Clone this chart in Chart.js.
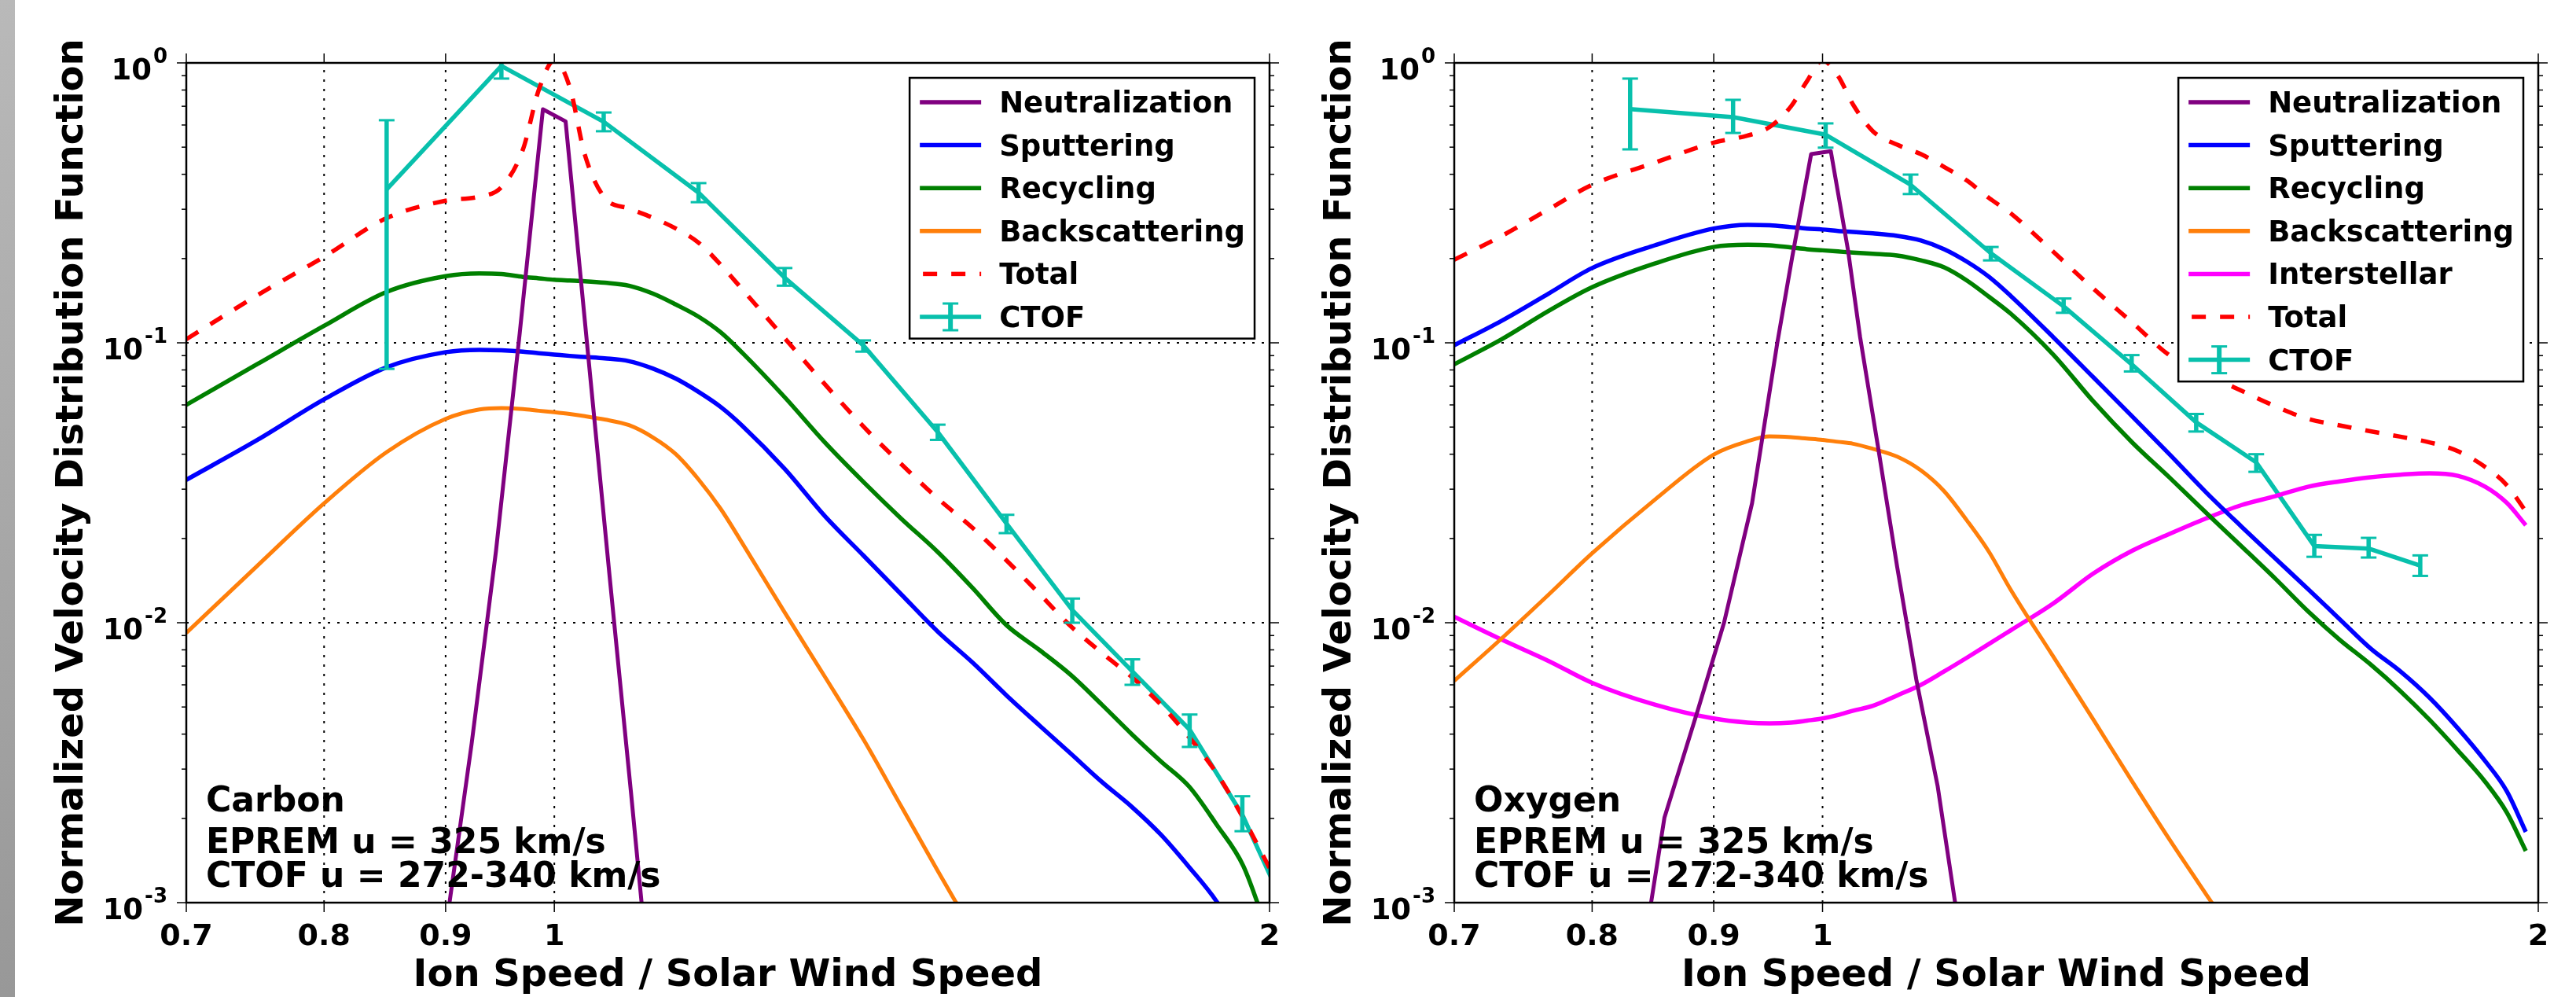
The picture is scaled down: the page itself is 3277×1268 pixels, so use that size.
<!DOCTYPE html>
<html>
<head>
<meta charset="utf-8">
<script src="https://cdn.jsdelivr.net/npm/chart.js@4.4.1/dist/chart.umd.min.js"></script>
<style>
  html, body { margin: 0; padding: 0; background: #fff; }
  body { width: 3277px; height: 1268px; position: relative; overflow: hidden; }
  .strip { position: absolute; left: 0; top: 0; width: 19px; height: 1268px; background: linear-gradient(#b9b9b9, #989898); }
  .panel { position: absolute; top: 0; height: 1268px; }
  #carbonBox { left: 0; width: 1640px; }
  #oxygenBox { left: 1640px; width: 1637px; }
</style>
</head>
<body>
<div class="strip"></div>
<div class="panel" id="carbonBox"><canvas id="carbonChart"></canvas></div>
<div class="panel" id="oxygenBox"><canvas id="oxygenChart"></canvas></div>
<script>
// axes
const xTicks = [0.7, 0.8, 0.9, 1, 2];
const xTickLabels = ['0.7', '0.8', '0.9', '1', '2'];
const yTicks = [1, 0.1, 0.01, 0.001];
const yTickExp = ['0', '-1', '-2', '-3'];
const xTitle = 'Ion Speed / Solar Wind Speed';
const yTitle = 'Normalized Velocity Distribution Function';

// Carbon panel - model curves share one x grid
const carbonGridX = [0.7, 0.75, 0.8, 0.85, 0.9, 0.93, 0.95, 0.97, 0.985, 1.0, 1.015, 1.03, 1.05, 1.075, 1.1, 1.125, 1.15, 1.175, 1.2, 1.25, 1.3, 1.35, 1.4, 1.45, 1.5, 1.55, 1.6, 1.65, 1.7, 1.75, 1.8, 1.85, 1.9, 1.95, 2.0];
const carbonSputtering = [0.0324, 0.045, 0.0628, 0.0818, 0.0926, 0.0944, 0.094, 0.093, 0.0918, 0.0908, 0.0898, 0.089, 0.088, 0.086, 0.081, 0.0745, 0.0668, 0.059, 0.0505, 0.0355, 0.024, 0.0173, 0.0126, 0.0093, 0.0072, 0.0055, 0.0043, 0.0034, 0.0027, 0.0022, 0.00175, 0.00134, 0.00101, 0.0007, 0.0005];
const carbonRecycling = [0.060, 0.084, 0.115, 0.152, 0.173, 0.177, 0.176, 0.172, 0.170, 0.168, 0.167, 0.166, 0.164, 0.160, 0.150, 0.137, 0.124, 0.109, 0.092, 0.064, 0.044, 0.0317, 0.0235, 0.0179, 0.0133, 0.0098, 0.008, 0.0065, 0.0051, 0.004, 0.0032, 0.0026, 0.0019, 0.00135, 0.00075];
const carbonBackscattering = [0.0092, 0.016, 0.0267, 0.0407, 0.0535, 0.0578, 0.0585, 0.058, 0.0572, 0.0565, 0.0557, 0.0547, 0.0532, 0.0508, 0.046, 0.040, 0.0325, 0.0255, 0.0192, 0.0109, 0.0064, 0.0038, 0.0022, 0.0013, 0.00079, 0.00049, null, null, null, null, null, null, null, null, null];
const carbonTotal = [0.103, 0.148, 0.203, 0.279, 0.322, 0.333, 0.36, 0.49, 0.80, 1.02, 0.82, 0.47, 0.33, 0.302, 0.28, 0.256, 0.228, 0.19, 0.155, 0.104, 0.071, 0.05, 0.0368, 0.0278, 0.0218, 0.0167, 0.0127, 0.0097, 0.0078, 0.0064, 0.0051, 0.0039, 0.0029, 0.002, 0.00133];
const carbonNeutX = [0.901, 0.923, 0.945, 0.967, 0.989, 1.011, 1.033, 1.055, 1.077, 1.099];
const carbonNeutralization = [0.00085, 0.0037, 0.018, 0.108, 0.683, 0.618, 0.093, 0.0147, 0.0025, 0.00042];
const carbonCtofX = [0.85, 0.95, 1.049, 1.15, 1.25, 1.349, 1.45, 1.55, 1.652, 1.751, 1.851, 1.948, 2.05];
const carbonCtof = [0.353, 0.975, 0.616, 0.344, 0.171, 0.098, 0.048, 0.0226, 0.0111, 0.0067, 0.00415, 0.00206, 0.0008];
const carbonCtofLo = [0.0807, 0.879, 0.57, 0.318, 0.160, 0.093, 0.045, 0.0209, 0.0100, 0.0060, 0.0036, 0.0018, 0.0007];
const carbonCtofHi = [0.624, 1.07, 0.665, 0.372, 0.185, 0.102, 0.051, 0.0243, 0.0122, 0.0074, 0.0047, 0.0024, 0.0009];
const carbonNote = ['Carbon', 'EPREM u = 325 km/s', 'CTOF u = 272-340 km/s'];

// Oxygen panel
const oxygenGridX = [0.7, 0.733, 0.767, 0.8, 0.85, 0.9, 0.93, 0.95, 0.97, 0.985, 1.0, 1.015, 1.03, 1.05, 1.075, 1.1, 1.125, 1.15, 1.175, 1.2, 1.25, 1.3, 1.35, 1.4, 1.45, 1.5, 1.55, 1.6, 1.65, 1.7, 1.75, 1.8, 1.85, 1.9, 1.94, 1.976];
const oxygenSputtering = [0.098, 0.120, 0.150, 0.185, 0.223, 0.256, 0.264, 0.263, 0.259, 0.256, 0.254, 0.251, 0.249, 0.246, 0.241, 0.232, 0.216, 0.195, 0.172, 0.147, 0.105, 0.0752, 0.0545, 0.0398, 0.0292, 0.0221, 0.017, 0.0132, 0.0103, 0.0081, 0.0067, 0.0054, 0.0042, 0.0032, 0.0025, 0.00179];
const oxygenRecycling = [0.0838, 0.103, 0.130, 0.158, 0.192, 0.220, 0.224, 0.223, 0.219, 0.216, 0.214, 0.212, 0.210, 0.208, 0.205, 0.197, 0.186, 0.167, 0.146, 0.127, 0.091, 0.0617, 0.044, 0.0329, 0.0247, 0.0188, 0.0144, 0.011, 0.0087, 0.0071, 0.0057, 0.0045, 0.0035, 0.0027, 0.0021, 0.00153];
const oxygenBackscattering = [0.0062, 0.0088, 0.0126, 0.0177, 0.0275, 0.0399, 0.0445, 0.0463, 0.046, 0.0455, 0.045, 0.0443, 0.0436, 0.0418, 0.0392, 0.035, 0.0295, 0.0232, 0.0179, 0.0131, 0.0076, 0.0045, 0.0027, 0.00167, 0.00107, 0.0007, null, null, null, null, null, null, null, null, null, null];
const oxygenInterstellar = [0.0105, 0.0087, 0.0073, 0.0061, 0.0051, 0.00455, 0.0044, 0.00437, 0.0044, 0.00447, 0.00455, 0.00468, 0.00485, 0.00505, 0.0055, 0.006, 0.0067, 0.0075, 0.0084, 0.0094, 0.0117, 0.015, 0.0181, 0.0208, 0.0236, 0.0263, 0.0283, 0.0306, 0.032, 0.0331, 0.0338, 0.0342, 0.0335, 0.0306, 0.0268, 0.0223];
const oxygenTotal = [0.198, 0.241, 0.30, 0.367, 0.44, 0.519, 0.55, 0.59, 0.70, 0.86, 1.02, 0.90, 0.71, 0.57, 0.51, 0.472, 0.425, 0.38, 0.329, 0.29, 0.212, 0.156, 0.118, 0.09, 0.0773, 0.0675, 0.0594, 0.0535, 0.0507, 0.0483, 0.0462, 0.0441, 0.041, 0.036, 0.031, 0.025];
const oxygenNeutX = [0.83, 0.847, 0.858, 0.886, 0.909, 0.934, 0.957, 0.971, 0.989, 1.008, 1.025, 1.037, 1.055, 1.075, 1.095, 1.118, 1.137, 1.15];
const oxygenNeutralization = [0.0003, 0.001, 0.00201, 0.00484, 0.01, 0.0267, 0.0993, 0.202, 0.472, 0.484, 0.214, 0.105, 0.0429, 0.0158, 0.00628, 0.0026, 0.001, 0.0005];
const oxygenCtofX = [0.83, 0.917, 1.003, 1.089, 1.177, 1.263, 1.349, 1.436, 1.522, 1.61, 1.697, 1.784];
const oxygenCtof = [0.684, 0.64, 0.554, 0.367, 0.209, 0.135, 0.0838, 0.052, 0.0374, 0.0188, 0.0184, 0.016];
const oxygenCtofLo = [0.491, 0.562, 0.498, 0.34, 0.197, 0.128, 0.079, 0.0482, 0.0346, 0.0172, 0.0171, 0.0147];
const oxygenCtofHi = [0.879, 0.738, 0.608, 0.399, 0.22, 0.144, 0.0904, 0.0557, 0.04, 0.0206, 0.0201, 0.0174];
const oxygenNote = ['Oxygen', 'EPREM u = 325 km/s', 'CTOF u = 272-340 km/s'];

const FONT = '"DejaVu Sans", sans-serif';
const colors = { neut: '#800080', sput: '#0000ff', rec: '#008000', back: '#ff7f0a', inter: '#ff00ff', total: '#ff0000', ctof: '#08c0ac' };

function seg(ctx, x1, y1, x2, y2) {
    ctx.beginPath(); ctx.moveTo(x1, y1); ctx.lineTo(x2, y2); ctx.stroke();
}

function curve(label, xs, ys, color, extra) {
    const data = [];
    xs.forEach((x, i) => { if (ys[i] !== null) data.push({ x: x, y: ys[i] }); });
    return Object.assign({
        label: label, data: data, showLine: true,
        borderColor: color, backgroundColor: color, borderWidth: 5.5,
        pointRadius: 0, pointHoverRadius: 0,
        cubicInterpolationMode: 'monotone', borderJoinStyle: 'round', clip: 0
    }, extra || {});
}

// grid, error bars, legend, frame, ticks and texts
const decor = {
    id: 'decor',
    beforeDatasetsDraw(chart) {
        const { ctx, chartArea: a, scales: { x, y } } = chart;
        ctx.save();
        ctx.strokeStyle = '#000'; ctx.lineWidth = 2; ctx.setLineDash([3, 9]);
        xTicks.forEach(v => {
            const px = x.getPixelForValue(v);
            if (px > a.left + 2 && px < a.right - 2) seg(ctx, px, a.bottom, px, a.top);
        });
        yTicks.forEach(v => {
            const py = y.getPixelForValue(v);
            if (py > a.top + 2 && py < a.bottom - 2) seg(ctx, a.left, py, a.right, py);
        });
        ctx.restore();
    },
    afterDatasetsDraw(chart) {
        const { ctx, chartArea: a, scales: { x, y } } = chart;
        const sets = chart.data.datasets;

        // error bars
        ctx.save();
        ctx.beginPath(); ctx.rect(a.left, a.top, a.right - a.left, a.bottom - a.top); ctx.clip();
        sets.forEach(ds => {
            if (!ds.errLo) return;
            ctx.strokeStyle = ds.borderColor;
            ds.data.forEach((p, i) => {
                const px = x.getPixelForValue(p.x);
                const lo = y.getPixelForValue(ds.errLo[i]);
                const hi = y.getPixelForValue(ds.errHi[i]);
                ctx.lineWidth = 5.5; seg(ctx, px, lo, px, hi);
                ctx.lineWidth = 3;
                seg(ctx, px - 10, lo, px + 10, lo);
                seg(ctx, px - 10, hi, px + 10, hi);
            });
        });
        ctx.restore();

        // legend
        ctx.save();
        ctx.font = `bold 37px ${FONT}`;
        const textW = Math.max(...sets.map(d => ctx.measureText(d.label).width));
        const rowH = 54.6;
        const bw = 114 + textW + 12, bh = sets.length * rowH + 4;
        const bx = a.right - 19 - bw, by = a.top + 19;
        ctx.fillStyle = '#fff'; ctx.fillRect(bx, by, bw, bh);
        ctx.lineWidth = 2.5; ctx.strokeStyle = '#000'; ctx.strokeRect(bx, by, bw, bh);
        sets.forEach((d, k) => {
            const cy = by + 31 + k * rowH;
            ctx.strokeStyle = d.borderColor; ctx.lineWidth = 5.5;
            if (d.borderDash) { ctx.setLineDash(d.borderDash); ctx.lineDashOffset = 32; }
            seg(ctx, bx + 13, cy, bx + 91, cy);
            ctx.setLineDash([]); ctx.lineDashOffset = 0;
            if (d.errLo) {
                ctx.lineWidth = 6; seg(ctx, bx + 52, cy - 17, bx + 52, cy + 17);
                ctx.lineWidth = 3;
                seg(ctx, bx + 42, cy - 17, bx + 62, cy - 17);
                seg(ctx, bx + 42, cy + 17, bx + 62, cy + 17);
            }
            ctx.fillStyle = '#000'; ctx.textAlign = 'left'; ctx.textBaseline = 'alphabetic';
            ctx.fillText(d.label, bx + 114, cy + 13);
        });
        ctx.restore();
    },
    afterDraw(chart, args, opts) {
        const { ctx, chartArea: a, scales: { x, y } } = chart;
        ctx.save();
        ctx.strokeStyle = '#000';
        ctx.lineWidth = 2.5;
        ctx.strokeRect(a.left, a.top, a.right - a.left, a.bottom - a.top);

        // ticks (outward)
        ctx.lineWidth = 1.5;
        for (let d = -3; d < 0; d++) {
            for (let m = 2; m <= 9; m++) {
                const py = y.getPixelForValue(m * Math.pow(10, d));
                seg(ctx, a.left - 6, py, a.left, py);
                seg(ctx, a.right, py, a.right + 6, py);
            }
        }
        yTicks.forEach(v => {
            const py = y.getPixelForValue(v);
            seg(ctx, a.left - 12, py, a.left, py);
            seg(ctx, a.right, py, a.right + 12, py);
        });
        xTicks.forEach(v => {
            const px = x.getPixelForValue(v);
            seg(ctx, px, a.bottom, px, a.bottom + 12);
            seg(ctx, px, a.top - 12, px, a.top);
        });

        // tick labels
        ctx.fillStyle = '#000';
        ctx.textBaseline = 'alphabetic';
        ctx.textAlign = 'center';
        ctx.font = `bold 38px ${FONT}`;
        xTicks.forEach((v, k) => ctx.fillText(xTickLabels[k], x.getPixelForValue(v), a.bottom + 54));
        ctx.textAlign = 'right';
        yTicks.forEach((v, k) => {
            const py = y.getPixelForValue(v);
            ctx.font = `bold 26px ${FONT}`;
            const sw = ctx.measureText(yTickExp[k]).width;
            ctx.fillText(yTickExp[k], a.left - 24, py);
            ctx.font = `bold 37px ${FONT}`;
            ctx.fillText('10', a.left - 26 - sw, py + 21);
        });

        // axis titles
        ctx.font = `bold 48px ${FONT}`;
        ctx.textAlign = 'center';
        ctx.fillText(xTitle, (a.left + a.right) / 2, 1254);
        ctx.save();
        ctx.translate(a.left - 132, (a.top + a.bottom) / 2);
        ctx.rotate(-Math.PI / 2);
        ctx.fillText(yTitle, 0, 0);
        ctx.restore();

        // panel note
        ctx.font = `bold 44px ${FONT}`;
        ctx.textAlign = 'left';
        const note = opts.note || [];
        const base = [a.bottom - 116, a.bottom - 63, a.bottom - 20];
        note.forEach((t, k) => ctx.fillText(t, a.left + 25, base[k]));
        ctx.restore();
    }
};

function makeChart(id, sets, note, axisW, padRight) {
    return new Chart(document.getElementById(id), {
        type: 'scatter',
        data: { datasets: sets },
        options: {
            responsive: true,
            maintainAspectRatio: false,
            animation: false,
            events: [],
            layout: { padding: { top: 80, right: padRight, left: 0, bottom: 0 } },
            scales: {
                x: {
                    type: 'logarithmic', min: 0.7, max: 2,
                    ticks: { display: false }, grid: { display: false }, border: { display: false },
                    afterFit: s => { s.height = 120; }
                },
                y: {
                    type: 'logarithmic', min: 0.001, max: 1,
                    ticks: { display: false }, grid: { display: false }, border: { display: false },
                    afterFit: s => { s.width = axisW; }
                }
            },
            plugins: { legend: { display: false }, tooltip: { enabled: false }, decor: { note: note } }
        },
        plugins: [decor]
    });
}

const carbonSets = [
    curve('Neutralization', carbonNeutX, carbonNeutralization, colors.neut, { cubicInterpolationMode: 'default', tension: 0, borderWidth: 5 }),
    curve('Sputtering', carbonGridX, carbonSputtering, colors.sput),
    curve('Recycling', carbonGridX, carbonRecycling, colors.rec),
    curve('Backscattering', carbonGridX, carbonBackscattering, colors.back, { borderWidth: 5 }),
    curve('Total', carbonGridX, carbonTotal, colors.total, { borderDash: [18, 18] }),
    curve('CTOF', carbonCtofX, carbonCtof, colors.ctof, { cubicInterpolationMode: 'default', tension: 0, errLo: carbonCtofLo, errHi: carbonCtofHi })
];

const oxygenSets = [
    curve('Neutralization', oxygenNeutX, oxygenNeutralization, colors.neut, { cubicInterpolationMode: 'default', tension: 0, borderWidth: 5 }),
    curve('Sputtering', oxygenGridX, oxygenSputtering, colors.sput),
    curve('Recycling', oxygenGridX, oxygenRecycling, colors.rec),
    curve('Backscattering', oxygenGridX, oxygenBackscattering, colors.back, { borderWidth: 5 }),
    curve('Interstellar', oxygenGridX, oxygenInterstellar, colors.inter),
    curve('Total', oxygenGridX, oxygenTotal, colors.total, { borderDash: [18, 18] }),
    curve('CTOF', oxygenCtofX, oxygenCtof, colors.ctof, { cubicInterpolationMode: 'default', tension: 0, errLo: oxygenCtofLo, errHi: oxygenCtofHi })
];

makeChart('carbonChart', carbonSets, carbonNote, 237, 25);
makeChart('oxygenChart', oxygenSets, oxygenNote, 210, 48);
</script>
</body>
</html>
